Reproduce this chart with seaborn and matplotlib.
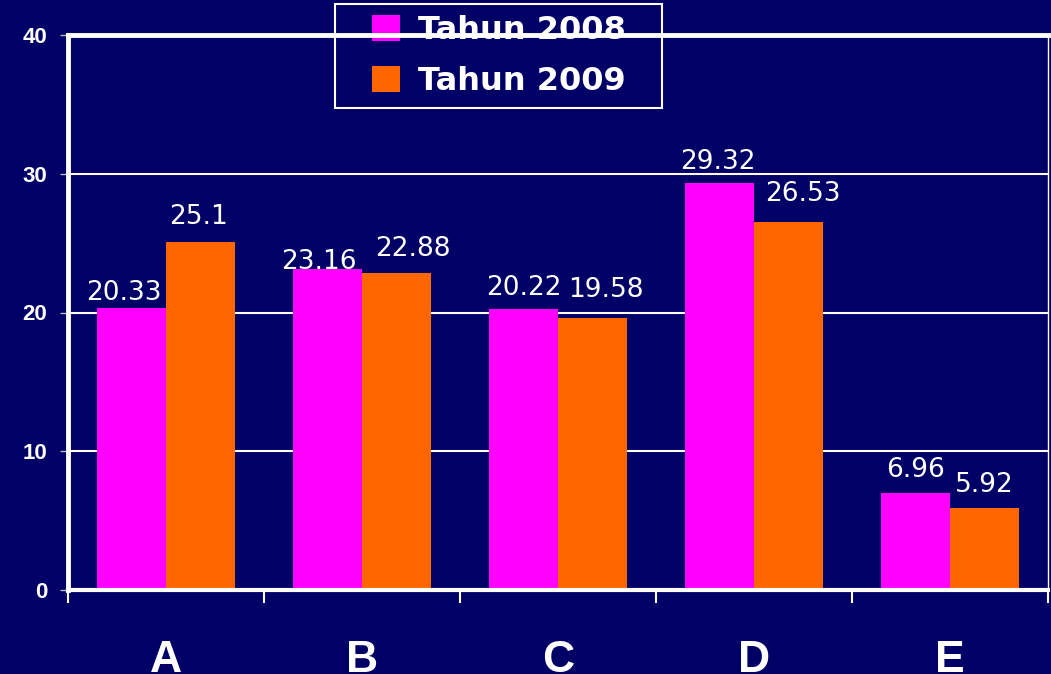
import matplotlib
matplotlib.use("Agg")
import matplotlib.pyplot as plt
import seaborn as sns
import pandas as pd
from matplotlib.patches import Rectangle

categories = ["A", "B", "C", "D", "E"]
series_names = ["Tahun 2008", "Tahun 2009"]
values_2008 = [20.33, 23.16, 20.22, 29.32, 6.96]
values_2009 = [25.1, 22.88, 19.58, 26.53, 5.92]
label_2008 = ["20.33", "23.16", "20.22", "29.32", "6.96"]
label_2009 = ["25.1", "22.88", "19.58", "26.53", "5.92"]
yticks = [0, 10, 20, 30, 40]

BG = "#000066"
colors = ["#FF00FF", "#FF6600"]
PX = 72 / 100  # pixels -> points

df = pd.DataFrame({
    "cat": categories * 2,
    "series": [series_names[0]] * 5 + [series_names[1]] * 5,
    "val": values_2008 + values_2009,
})

sns.set_theme(style="white")
plt.rcParams["font.family"] = ["DejaVu Sans"]

fig = plt.figure(figsize=(10.51, 6.74), dpi=100, facecolor=BG)
ax = fig.add_axes([68 / 1051, 1 - 590 / 674, (1048 - 68) / 1051, (590 - 35) / 674])
ax.set_facecolor(BG)

sns.barplot(data=df, x="cat", y="val", hue="series", palette=colors,
            width=0.7, saturation=1, linewidth=0, ax=ax, zorder=2)

ax.set_ylim(0, 40)
ax.set_yticks(yticks)
ax.set_yticklabels([str(t) for t in yticks])
ax.set_xlabel("")
ax.set_ylabel("")

# gridlines
ax.yaxis.grid(True, color="white", linewidth=1.5, zorder=1)
ax.set_axisbelow(True)

# spines
for side, lw in [("top", 3.5), ("left", 3.5), ("bottom", 3.0), ("right", 1.0)]:
    ax.spines[side].set_visible(True)
    ax.spines[side].set_color("white")
    ax.spines[side].set_linewidth(lw)
    ax.spines[side].set_zorder(4)

# ticks
ax.tick_params(axis="y", which="major", length=6, width=1, color="#BBBBCC",
               pad=9, labelsize=16, labelcolor="white", left=True)
for t in ax.get_yticklabels():
    t.set_fontweight("bold")
    t.set_family(["Liberation Sans", "DejaVu Sans"])

ax.tick_params(axis="x", which="major", length=0, pad=36, labelsize=32,
               labelcolor="white", bottom=True)
for t in ax.get_xticklabels():
    t.set_fontweight("bold")
    t.set_family(["Liberation Sans", "DejaVu Sans"])
ax.set_xticks([i - 0.5 for i in range(len(categories) + 1)], minor=True)
ax.tick_params(axis="x", which="minor", length=9, width=1.5, color="white",
               bottom=True)
ax.set_xlim(-0.5, len(categories) - 0.5)

# value labels (with small per-label nudges like the original)
nudges = [
    [(-8, 2), (-9, -6), (0, 8), (-2, 8), (0, 10)],
    [(-2, 12), (17, 11), (14, 15), (15, 15), (0, 10)],
]
for cont, labs, nd in zip(ax.containers, [label_2008, label_2009], nudges):
    anns = ax.bar_label(cont, labels=labs, padding=0, color="white",
                        fontsize=19, zorder=5)
    for a, (dx, dy) in zip(anns, nd):
        a.xyann = (dx * PX, dy * PX)

# legend
handles, labels = ax.get_legend_handles_labels()
leg = ax.legend(handles, labels, loc="upper left",
                bbox_to_anchor=(372 / 1051, 1 - 15 / 674),
                bbox_transform=fig.transFigure, frameon=False,
                prop={"size": 23, "weight": "bold", "family": "DejaVu Sans"},
                labelcolor="white",
                handlelength=0.875, handleheight=0.875, handletextpad=0.56,
                labelspacing=0.62, borderpad=0, borderaxespad=0)
leg.set_zorder(3)
fig.patches.append(Rectangle((335 / 1051, 1 - 108 / 674), 327 / 1051, 104 / 674,
                             transform=fig.transFigure, fill=False,
                             edgecolor="white", linewidth=1.5, zorder=0))

fig.savefig("out.png", dpi=100, facecolor=BG)
